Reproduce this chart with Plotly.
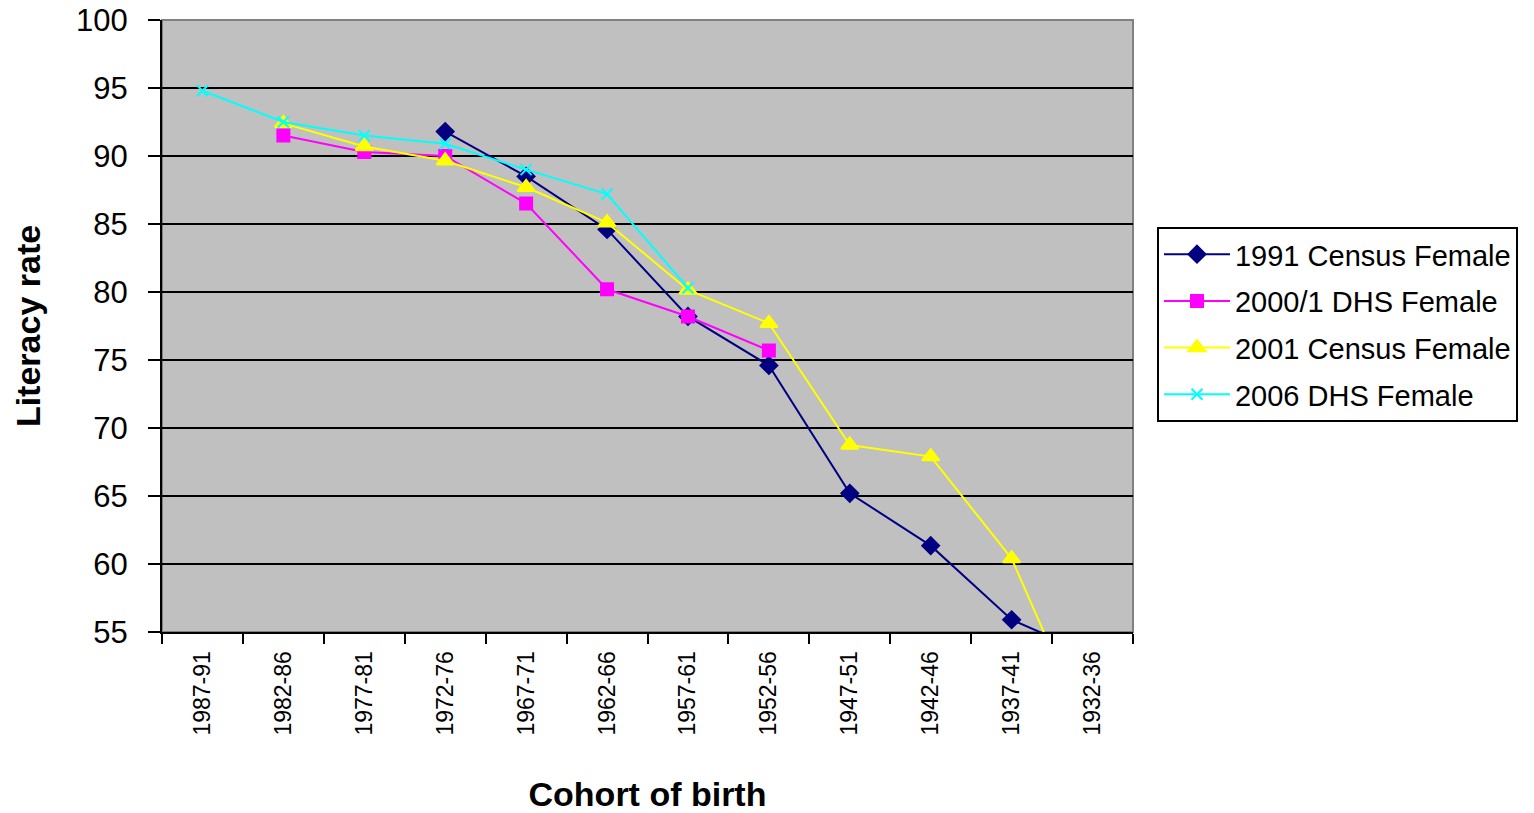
import plotly.graph_objects as go

cohorts = ["1987-91", "1982-86", "1977-81", "1972-76", "1967-71", "1962-66",
           "1957-61", "1952-56", "1947-51", "1942-46", "1937-41", "1932-36"]

census_1991 = [None, None, None, 91.8, 88.5, 84.6, 78.2, 74.6, 65.2, 61.35, 55.9, 53.3]
dhs_2000 = [None, 91.5, 90.3, 90.0, 86.5, 80.2, 78.2, 75.7, None, None, None, None]
census_2001 = [None, 92.4, 90.7, 89.65, 87.7, 85.1, 80.15, 77.7, 68.75, 67.9, 60.4, 46.8]
dhs_2006 = [94.8, 92.5, 91.5, 90.9, 89.0, 87.2, 80.3, None, None, None, None, None]

series = [
    ("1991 Census Female", census_1991, "#000080", "diamond", 13),
    ("2000/1 DHS Female", dhs_2000, "#FF00FF", "square", 12),
    ("2001 Census Female", census_2001, "#FFFF00", "triangle-up", 15),
    ("2006 DHS Female", dhs_2006, "#00FFFF", "x-thin", 11),
]

fig = go.Figure()
for i, (name, vals, color, sym, size) in enumerate(series):
    fig.add_trace(go.Scatter(
        x=cohorts, y=vals, name=name, mode="lines+markers",
        legendgroup=f"g{i}",
        line=dict(color=color, width=2),
        marker=dict(symbol=sym, size=size, color=color,
                    line=dict(color=color, width=2)),
        connectgaps=False, cliponaxis=True,
    ))

font = "Arial, Liberation Sans, sans-serif"
fig.update_layout(
    width=1534, height=813,
    margin=dict(l=162, r=401, t=20, b=181),
    paper_bgcolor="white", plot_bgcolor="#C0C0C0",
    font=dict(family=font, color="black"),
    showlegend=True,
    legend=dict(x=1.0247, y=0.662, xanchor="left", yanchor="top",
                bgcolor="white", bordercolor="black", borderwidth=2,
                font=dict(size=29, family=font), itemwidth=66,
                tracegroupgap=6),
    xaxis=dict(type="category", categoryorder="array", categoryarray=cohorts,
               range=[-0.5, 11.5], tickangle=-90, tickfont=dict(size=23),
               ticks="outside", ticklen=10, tickcolor="black", tickwidth=2,
               tickson="boundaries", showgrid=False, automargin=False,
               ticklabelstandoff=8,
               showline=True, linecolor="black", linewidth=2,
               title=dict(text="<b>Cohort of birth</b>", font=dict(size=34), standoff=50)),
    yaxis=dict(range=[55, 100], tickvals=list(range(55, 101, 5)),
               tickfont=dict(size=31), ticks="outside", ticklen=12,
               tickcolor="black", tickwidth=2, automargin=False,
               ticklabelstandoff=14,
               showgrid=True, gridcolor="black", gridwidth=2,
               showline=True, linecolor="black", linewidth=2, zeroline=False,
               title=dict(text="<b>Literacy rate</b>", font=dict(size=34), standoff=25)),
)
fig.add_shape(type="rect", xref="paper", yref="paper", x0=0, x1=1, y0=0, y1=1,
              line=dict(color="#808080", width=2), layer="below")

fig.write_html("out.html")
